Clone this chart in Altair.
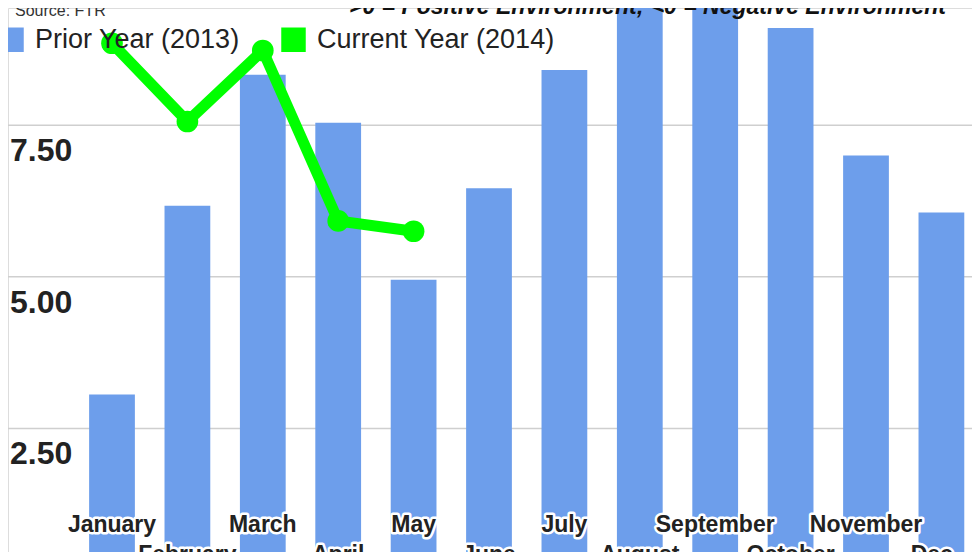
import altair as alt
import pandas as pd

# ---------------- data ----------------
months = ["January", "February", "March", "April", "May", "June",
          "July", "August", "September", "October", "November", "December"]
prior_2013 = [3.06, 6.17, 8.33, 7.54, 4.95, 6.46, 8.41, 9.51, 9.70, 9.10, 7.00, 6.06]
current_2014 = [8.85, 7.56, 8.73, 5.92, 5.75]
y_ticks = [2.5, 5.0, 7.5]
y_tick_labels = ["2.50", "5.00", "7.50"]
series_names = ["Prior Year (2013)", "Current Year (2014)"]
series_colors = ["#6d9eeb", "#00ff00"]
source_note = ["Source: FTR"]
env_note = [">0 = Positive Environment;  <0 = Negative Environment"]

W, H = 964, 544
FONT = "Liberation Sans"

bars_df = pd.DataFrame({"month": months, "value": prior_2013, "series": series_names[0]})
line_df = pd.DataFrame({"month": months[:len(current_2014)], "value": current_2014,
                        "series": series_names[1]})
label_df = pd.DataFrame({"month": months, "idx": list(range(len(months)))})
tick_df = pd.DataFrame({"v": y_ticks, "label": y_tick_labels})

xscale = alt.Scale(domain=months, range=[66.3, 971.1], paddingInner=0.393, paddingOuter=0.1965)
yscale = alt.Scale(domain=[0, 10], range=[572, -34.5], nice=False, zero=False)

X = alt.X("month:N", scale=xscale, axis=None, sort=months)

color = alt.Color(
    "series:N",
    scale=alt.Scale(domain=series_names, range=series_colors),
    legend=alt.Legend(
        title=None, orient="none", legendX=-10, legendY=18, direction="horizontal",
        symbolType="square", symbolSize=600, symbolStrokeWidth=0,
        labelFontSize=27, labelFont=FONT, labelColor="#222222", labelOffset=10,
        labelLimit=0, columnPadding=40, padding=0,
    ),
)

grid = alt.Chart(tick_df).mark_rule(color="#cfcfcf", strokeWidth=1.5).encode(
    y=alt.Y("v:Q", scale=yscale, axis=None),
    x=alt.value(0), x2=alt.value(W),
)

bars = alt.Chart(bars_df).mark_bar(clip=True).encode(
    x=X,
    y=alt.Y("value:Q", scale=yscale, axis=None),
    y2=alt.datum(0),
    color=color,
)

ylabels = alt.Chart(tick_df).mark_text(
    align="left", baseline="alphabetic", dy=36, font=FONT, fontWeight="bold",
    fontSize=32, color="#222222",
).encode(
    y=alt.Y("v:Q", scale=yscale, axis=None),
    x=alt.value(2),
    text="label:N",
)

line = alt.Chart(line_df).mark_line(strokeWidth=11, color="#00ff00").encode(
    x=X,
    y=alt.Y("value:Q", scale=yscale, axis=None),
)

points = alt.Chart(line_df).mark_point(filled=True, size=470, opacity=1).encode(
    x=X,
    y=alt.Y("value:Q", scale=yscale, axis=None),
    color=color,
)


def month_text(filter_expr, ypix, **extra):
    base = alt.Chart(label_df).transform_filter(filter_expr)
    enc = dict(x=X, y=alt.value(ypix), text="month:N")
    common = dict(font=FONT, fontWeight="bold", fontSize=23, baseline="alphabetic",
                  align="center", **extra)
    halo = base.mark_text(stroke="white", strokeWidth=5, strokeJoin="round",
                          fill="white", **common).encode(**enc)
    txt = base.mark_text(color="#222222", **common).encode(**enc)
    return [halo, txt]


mlabels = (
    month_text("datum.idx % 2 == 0", 524)
    + month_text("datum.idx % 2 == 1 && datum.idx < 11", 554)
    + month_text("datum.idx == 11", 554, limit=64, ellipsis="...")
)

src = alt.Chart(pd.DataFrame({"t": source_note})).mark_text(
    align="left", baseline="alphabetic", font=FONT, fontSize=16, color="#333333",
).encode(text="t:N", x=alt.value(7), y=alt.value(8))

env = alt.Chart(pd.DataFrame({"t": env_note})).mark_text(
    align="left", baseline="alphabetic", font=FONT, fontSize=23, fontWeight="bold",
    fontStyle="italic", color="#111111",
).encode(text="t:N", x=alt.value(341), y=alt.value(6))

chart = alt.layer(grid, bars, ylabels, line, points, *mlabels, src, env).properties(
    width=W, height=H, padding=0,
    autosize=alt.AutoSizeParams(type="none"),
).configure_view(stroke=None).configure(background="white")

chart.save("out.html", embed_options={"renderer": "svg", "actions": False})
